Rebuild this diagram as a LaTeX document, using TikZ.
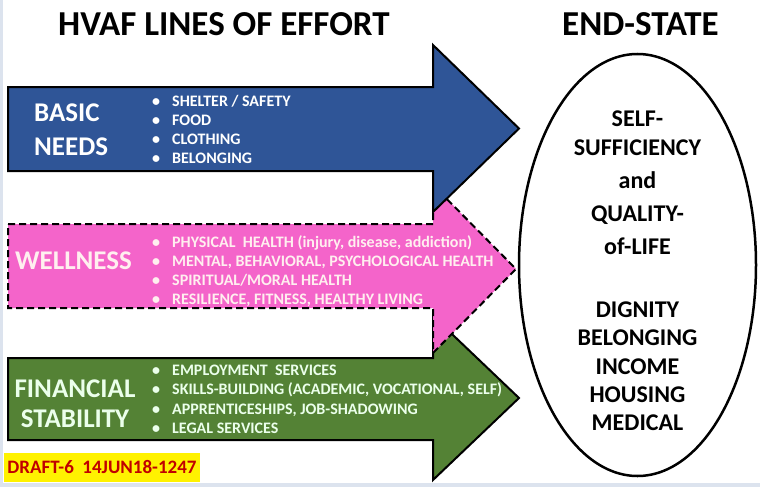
\documentclass[tikz,border=0pt]{standalone}
\usepackage{fontspec}
\setmainfont{Carlito}
\usetikzlibrary{shapes.geometric}
\definecolor{lineblue}{HTML}{2F5597}
\definecolor{linepink}{HTML}{F464CA}
\definecolor{linegreen}{HTML}{548235}
\definecolor{draftred}{HTML}{C00000}
\definecolor{stripgray}{HTML}{DCE3EE}
\tikzset{
  effort/.style={draw=black,line width=2pt,line join=miter},
  toptext/.style={font=\bfseries\fontsize{35}{40}\selectfont,anchor=base west,inner sep=0pt},
  loename/.style={font=\bfseries\fontsize{27}{30}\selectfont,anchor=base west,inner sep=0pt},
  item/.style={font=\bfseries\fontsize{16}{19}\selectfont,anchor=base west,inner sep=0pt},
  goal/.style={font=\bfseries\fontsize{24}{28}\selectfont,anchor=base,inner sep=0pt}
}

\begin{document}
\begin{tikzpicture}[x=1pt,y=-1pt]
\useasboundingbox (0,0) rectangle (760,487);
\fill[stripgray] (0,0) rectangle (760,487);
\fill[white] (3,0) rectangle (760,483);

% headings
\path (58,36) node(loe)[toptext]{HVAF LINES OF EFFORT}
(562,36) node(endst)[toptext]{END-STATE};

% the three arrows (green under pink under blue)
\filldraw[effort,fill=linegreen] (8,358)--(433,358)--(433,316)--(519,398)--(433,480)--(433,440)--(8,440)--cycle;
\filldraw[effort,fill=linepink,dash pattern=on 7pt off 4pt] (8,224)--(433,224)--(433,185)--(516,269)--(433,353)--(433,308)--(8,308)--cycle;
\filldraw[effort,fill=lineblue] (8,87)--(433,87)--(433,45)--(519,128.5)--(433,212)--(433,171)--(8,171)--cycle;

% basic needs
\path (34,121.5) node(basic)[loename,text=white]{BASIC}
(34,155.5) node(needs)[loename,text=white]{NEEDS};
\foreach \txt [count=\i] in {SHELTER / SAFETY,FOOD,CLOTHING,BELONGING}
  \path (152,87.75+19*\i) node(bn-\i)[item,text=white]{•}
  (172,87.75+19*\i) node(bt-\i)[item,text=white]{\txt};

% wellness
\path (15,269.5) node(well)[loename,text=pink!25]{WELLNESS};
\foreach \txt [count=\i] in {{PHYSICAL\ \ HEALTH (injury, disease, addiction)},{MENTAL, BEHAVIORAL, PSYCHOLOGICAL HEALTH},{SPIRITUAL/MORAL HEALTH},{RESILIENCE, FITNESS, HEALTHY LIVING}}
  \path (152,228+19*\i) node(wn-\i)[item,text=pink!25]{•}
  (172,228+19*\i) node(wt-\i)[item,text=pink!25]{\txt};

% financial stability
\path (75,397) node(fin)[loename,anchor=base,text=white!92!green]{FINANCIAL}
(75,427) node(stab)[loename,anchor=base,text=white!92!green]{STABILITY};
\foreach \txt [count=\i] in {{EMPLOYMENT\ \ SERVICES},{SKILLS-BUILDING (ACADEMIC, VOCATIONAL, SELF)},{APPRENTICESHIPS, JOB-SHADOWING},{LEGAL SERVICES}}
  \path (152,356.5+19.2*\i) node(fn-\i)[item,text=white!92!green]{•}
  (172,356.5+19.2*\i) node(ft-\i)[item,text=white!92!green]{\txt};

% end state
\path (637.5,265) node(goalring)[ellipse,draw=black,line width=2.5pt,minimum width=237pt,minimum height=422pt,inner sep=0pt]{};
\foreach \txt/\yy [count=\i] in {SELF-/126.5,SUFFICIENCY/155,and/188,QUALITY-/221.5,of-LIFE/254}
  \path (637.5,\yy) node(top-\i)[goal]{\txt};
\foreach \txt [count=\i] in {DIGNITY,BELONGING,INCOME,HOUSING,MEDICAL}
  \path (637.5,289.2+28.3*\i) node(val-\i)[goal]{\txt};

% draft stamp
\path (102,467.5) node(draft)[fill=yellow,minimum width=196pt,minimum height=29pt,inner sep=0pt,
  font=\bfseries\fontsize{19}{22}\selectfont,text=draftred]{DRAFT-6\ \ 14JUN18-1247};
\end{tikzpicture}
\end{document}
